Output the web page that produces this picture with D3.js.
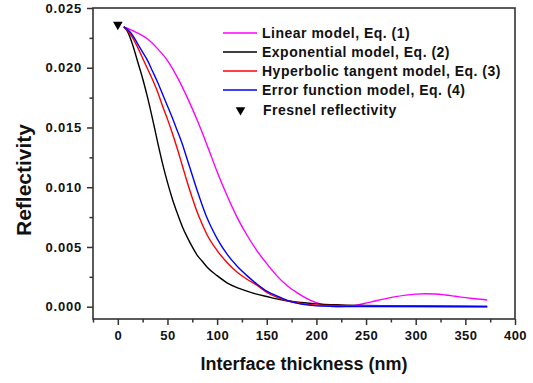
<!DOCTYPE html>
<html>
<head>
<meta charset="utf-8">
<script src="https://cdn.jsdelivr.net/npm/d3@7"></script>
<style>
  body { margin: 0; background: #fff; }
  svg { font-family: Arial, "Liberation Sans", sans-serif; }
</style>
</head>
<body>
<svg id="vis" width="533" height="383"></svg>
<script>
var vis = d3.select("#vis");

// data (x in nm, y = reflectivity)
var linearX = [6, 10, 20, 30, 40, 50, 60, 70, 80, 90, 100, 110, 120, 130, 140, 150, 160, 170, 180, 190, 200, 210, 220, 230, 240, 250, 260, 270, 280, 290, 300, 310, 320, 330, 340, 350, 360, 372];
var linearY = [0.02343, 0.0233, 0.0229, 0.0224, 0.0216, 0.0206, 0.0192, 0.0175, 0.0156, 0.0135, 0.0113, 0.0093, 0.0075, 0.0060, 0.0047, 0.0036, 0.0026, 0.0018, 0.0012, 0.0007, 0.00033, 0.0001, 0.0, 0.00003, 0.00013, 0.0003, 0.0005, 0.00068, 0.00084, 0.00097, 0.00105, 0.00108, 0.00106, 0.00098, 0.00087, 0.00076, 0.00066, 0.00056];

var expX = [6, 10, 15, 20, 25, 30, 35, 40, 45, 50, 55, 60, 65, 70, 75, 80, 85, 90, 100, 110, 120, 130, 140, 150, 160, 170, 185, 200, 225, 250, 300, 340, 372];
var expY = [0.02343, 0.0230, 0.0219, 0.0205, 0.0191, 0.0175, 0.0157, 0.0138, 0.0120, 0.0104, 0.0090, 0.0078, 0.0067, 0.0058, 0.0050, 0.0043, 0.0038, 0.0033, 0.0026, 0.0020, 0.0016, 0.0013, 0.00105, 0.00085, 0.00065, 0.0005, 0.00035, 0.00024, 0.00015, 0.0001, 0.00006, 0.00004, 0.00003];

var tanhX = [6, 10, 15, 20, 25, 30, 35, 40, 45, 50, 55, 60, 65, 70, 75, 80, 85, 90, 100, 110, 120, 130, 140, 150, 160, 170, 180, 190, 200, 225, 250, 300, 372];
var tanhY = [0.02343, 0.0231, 0.0225, 0.0217, 0.0208, 0.0199, 0.0190, 0.0180, 0.0168, 0.0157, 0.0145, 0.0132, 0.0118, 0.0104, 0.0091, 0.0079, 0.0069, 0.0060, 0.0047, 0.0037, 0.0029, 0.0023, 0.0018, 0.0012, 0.0008, 0.00052, 0.00033, 0.0002, 0.00013, 0.0001, 0.00008, 0.00004, 0.00002];

var erfX = [6, 10, 15, 20, 25, 30, 35, 40, 45, 50, 55, 60, 65, 70, 75, 80, 85, 90, 95, 100, 110, 120, 130, 140, 150, 160, 170, 180, 190, 200, 225, 250, 372];
var erfY = [0.02343, 0.0232, 0.0227, 0.0220, 0.0213, 0.0206, 0.0197, 0.0188, 0.0178, 0.0168, 0.0158, 0.0147, 0.0136, 0.0123, 0.0110, 0.0097, 0.0085, 0.0074, 0.0065, 0.0057, 0.0044, 0.0034, 0.0026, 0.0019, 0.0013, 0.0009, 0.00055, 0.0003, 0.00015, 0.00007, 0.00002, 0.00001, 0.0];

var fresnelX = [0];
var fresnelY = [0.02361];

var seriesNames = ["Linear model, Eq. (1)", "Exponential model, Eq. (2)", "Hyperbolic tangent model, Eq. (3)", "Error function model, Eq. (4)"];
var seriesColors = ["#ff00ff", "#000000", "#ff0000", "#0000ff"];
var fresnelName = "Fresnel reflectivity";

var xTicks = [0, 50, 100, 150, 200, 250, 300, 350, 400];
var xMinor = [-25, 25, 75, 125, 175, 225, 275, 325, 375];
var yTicks = [0, 0.005, 0.010, 0.015, 0.020, 0.025];
var yMinor = [0.0025, 0.0075, 0.0125, 0.0175, 0.0225];

var series = [
    { X: linearX, Y: linearY },
    { X: expX, Y: expY },
    { X: tanhX, Y: tanhY },
    { X: erfX, Y: erfY }
];

// plot frame (don't call these top/left, window.top is taken)
var frameL = 93, frameR = 515, frameT = 8, frameB = 319;
var axisColor = "#333";

var x = d3.scaleLinear().domain([-25, 400]).range([frameL, frameR]);
var y = d3.scaleLinear().domain([-0.00103, 0.025]).range([frameB, frameT]);

// minor ticks first
vis.append("g")
    .attr("transform", `translate(0 ${frameB})`)
    .call(d3.axisBottom(x).tickValues(xMinor).tickSize(3.5).tickFormat(""))
    .call(g => g.select(".domain").remove())
    .selectAll("line").attr("stroke", axisColor).attr("stroke-width", 1.5);

vis.append("g")
    .attr("transform", `translate(${frameL} 0)`)
    .call(d3.axisLeft(y).tickValues(yMinor).tickSize(3.5).tickFormat(""))
    .call(g => g.select(".domain").remove())
    .selectAll("line").attr("stroke", axisColor).attr("stroke-width", 1.5);

// major ticks + labels
var xAxis = vis.append("g")
    .attr("transform", `translate(0 ${frameB})`)
    .call(d3.axisBottom(x).tickValues(xTicks).tickSize(6).tickPadding(6).tickFormat(d3.format("d")));
xAxis.select(".domain").remove();
xAxis.selectAll("line").attr("stroke", axisColor).attr("stroke-width", 1.5);
xAxis.selectAll("text")
    .attr("fill", "#111")
    .attr("font-size", "13px")
    .attr("font-weight", "bold")
    .attr("font-family", "Arial, 'Liberation Sans', sans-serif")
    .style("letter-spacing", "0.4px");

var yAxis = vis.append("g")
    .attr("transform", `translate(${frameL} 0)`)
    .call(d3.axisLeft(y).tickValues(yTicks).tickSize(6).tickPadding(5).tickFormat(d3.format(".3f")));
yAxis.select(".domain").remove();
yAxis.selectAll("line").attr("stroke", axisColor).attr("stroke-width", 1.5);
yAxis.selectAll("text")
    .attr("fill", "#111")
    .attr("font-size", "13px")
    .attr("font-weight", "bold")
    .attr("font-family", "Arial, 'Liberation Sans', sans-serif")
    .style("letter-spacing", "0.8px");

// frame
vis.append("rect")
    .attr("x", frameL)
    .attr("y", frameT)
    .attr("width", frameR - frameL)
    .attr("height", frameB - frameT)
    .attr("fill", "none")
    .attr("stroke", axisColor)
    .attr("stroke-width", 1.6);

// curves
var line = d3.line()
    .x(d => x(d[0]))
    .y(d => y(d[1]))
    .curve(d3.curveMonotoneX);

series.forEach(function(s, i) {
    vis.append("path")
        .datum(d3.zip(s.X, s.Y))
        .attr("d", line)
        .attr("fill", "none")
        .attr("stroke", seriesColors[i])
        .attr("stroke-width", 1.4);
});

// fresnel point
var tri = d3.symbol().type(d3.symbolTriangle).size(40);
vis.selectAll(".fresnel")
    .data(d3.zip(fresnelX, fresnelY))
    .enter().append("path")
    .attr("class", "fresnel")
    .attr("d", tri)
    .attr("transform", d => `translate(${x(d[0])} ${y(d[1])}) rotate(180)`)
    .attr("fill", "#000");

// legend
var legend = vis.append("g").attr("transform", "translate(223 33)");
seriesNames.forEach(function(name, i) {
    var row = legend.append("g").attr("transform", `translate(0 ${i * 19})`);
    row.append("line")
        .attr("x1", 0).attr("x2", 34)
        .attr("stroke", seriesColors[i])
        .attr("stroke-width", 1.4);
    row.append("text")
        .attr("x", 39)
        .attr("dy", "0.35em")
        .attr("font-size", "14px")
        .attr("font-weight", "bold")
        .style("letter-spacing", "0.5px")
        .attr("fill", "#111")
        .text(name);
});
var fr = legend.append("g").attr("transform", `translate(0 ${4 * 19 + 1})`);
fr.append("path")
    .attr("d", tri)
    .attr("transform", "translate(17.5 0) rotate(180)")
    .attr("fill", "#000");
fr.append("text")
    .attr("x", 40)
    .attr("dy", "0.35em")
    .attr("font-size", "14px")
    .attr("font-weight", "bold")
    .style("letter-spacing", "0.5px")
    .attr("fill", "#111")
    .text(fresnelName);

// axis titles
vis.append("text")
    .attr("x", (frameL + frameR) / 2)
    .attr("y", 370)
    .attr("text-anchor", "middle")
    .attr("font-size", "18px")
    .attr("font-weight", "bold")
    .attr("fill", "#111")
    .text("Interface thickness (nm)");

vis.append("text")
    .attr("transform", "translate(31 180) rotate(-90)")
    .attr("text-anchor", "middle")
    .attr("font-size", "21px")
    .attr("font-weight", "bold")
    .attr("fill", "#111")
    .text("Reflectivity");
</script>
</body>
</html>
